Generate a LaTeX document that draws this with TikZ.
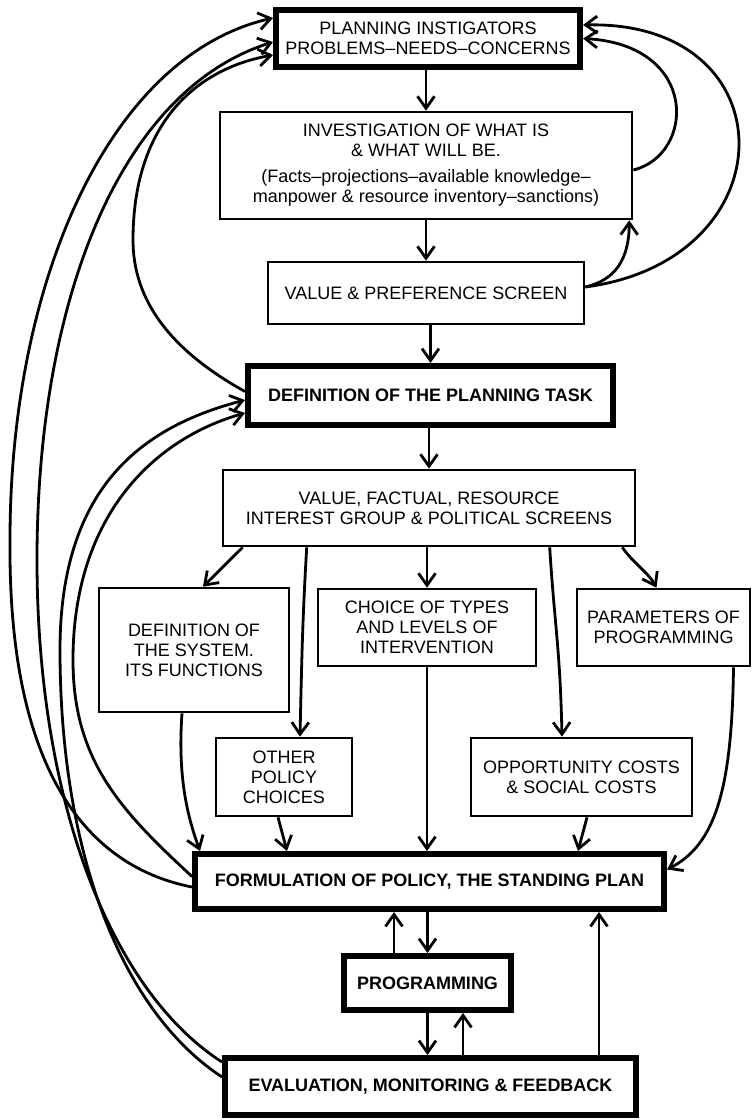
\documentclass[tikz,border=0pt]{standalone}
\usepackage{fontspec}
\setmainfont{Liberation Sans}
\usetikzlibrary{arrows.meta,calc}
\begin{document}
\begin{tikzpicture}[x=1pt,y=-1pt,
  box/.style={draw, line width=2.6pt, align=center, inner sep=0pt,
    font=\fontsize{18}{20}\selectfont},
  heavy/.style={box, line width=6pt},
  bold/.style={font=\fontsize{18}{20}\selectfont\bfseries},
  conn/.style={line width=2.8pt, -{Straight Barb[length=12pt,width=17pt]}}]
\useasboundingbox (0,0) rectangle (752,1120);

% boxes, top to bottom
\node[heavy, minimum width=304, minimum height=57] (plan) at (428,38.5)
  {PLANNING INSTIGATORS\\PROBLEMS–NEEDS–CONCERNS};
\node[box, minimum width=412, minimum height=107] (inv) at (426,165.5)
  {INVESTIGATION OF WHAT IS\\\& WHAT WILL BE.\\[6pt]
   (Facts–projections–available knowledge–\\manpower \& resource inventory–sanctions)};
\node[box, minimum width=316, minimum height=62] (vps) at (426,293)
  {VALUE \& PREFERENCE SCREEN};
\node[heavy, bold, minimum width=365, minimum height=59] (def) at (430.5,395.5)
  {DEFINITION OF THE PLANNING TASK};
\node[box, minimum width=412, minimum height=76] (vfs) at (429,508)
  {VALUE, FACTUAL, RESOURCE\\INTEREST GROUP \& POLITICAL SCREENS};
\node[box, minimum width=190, minimum height=124] (sys) at (194,650)
  {DEFINITION OF\\THE SYSTEM.\\ITS FUNCTIONS};
\node[box, minimum width=218, minimum height=77] (cho) at (427,627.5)
  {CHOICE OF TYPES\\AND LEVELS OF\\INTERVENTION};
\node[box, minimum width=173, minimum height=77] (par) at (663.5,627.5)
  {PARAMETERS OF\\PROGRAMMING};
\node[box, minimum width=136, minimum height=78] (oth) at (284,777)
  {OTHER\\POLICY\\CHOICES};
\node[box, minimum width=221, minimum height=78] (opp) at (581.5,777)
  {OPPORTUNITY COSTS\\\& SOCIAL COSTS};
\node[heavy, bold, minimum width=469, minimum height=55] (form) at (429.5,881.5)
  {FORMULATION OF POLICY, THE STANDING PLAN};
\node[heavy, bold, minimum width=167, minimum height=54] (prog) at (427.5,983)
  {PROGRAMMING};
\node[heavy, bold, minimum width=411, minimum height=57] (eval) at (430.5,1086.5)
  {EVALUATION, MONITORING \& FEEDBACK};

% main downward flow
\draw[conn] (plan.south -| inv.north) -- (inv.north);
\draw[conn] (inv.south -| vps.north) -- (vps.north);
\draw[conn] (vps.south -| def.north) -- (def.north);
\draw[conn] (def.south -| vfs.north) -- (vfs.north);

% screens to the option boxes
\draw[conn] ($(vfs.south west)+(21,0)$) -- ($(sys.north)+(9,0)$);
\draw[conn] ($(vfs.south west)+(85,0)$) .. controls +(-4,70) and +(2,-90) .. ($(oth.north)+(16,0)$);
\draw[conn] (vfs.south -| cho.north) -- (cho.north);
\draw[conn] ($(vfs.south west)+(328,0)$) .. controls +(5,80) and +(-2,-90) .. ($(opp.north)+(-19.5,0)$);
\draw[conn] ($(vfs.south east)+(-14,0)$) .. controls +(10,15) and +(-8,-15) .. ($(par.north)+(-7,0)$);

% option boxes into the standing plan
\draw[conn] ($(sys.south)+(-12,0)$) .. controls (178,770) and (185,810) .. ($(form.north west)+(8,0)$);
\draw[conn] ($(oth.south)+(-6,0)$) -- ($(form.north west)+(95,0)$);
\draw[conn] (cho.south) -- (cho.south |- form.north);
\draw[conn] ($(opp.south)+(5.5,0)$) -- ($(form.north west)+(386,0)$);
\draw[conn] ($(par.south)+(70,0)$) .. controls (732,790) and (715,845) .. ($(form.east)+(0,-12)$);

% plan, programming, evaluation
\coordinate (pu) at ($(prog.north)+(-33.5,0)$);
\coordinate (eu) at ($(eval.north)+(32.5,0)$);
\coordinate (ef) at ($(eval.north)+(168.5,0)$);
\draw[conn] (prog.north |- form.south) -- (prog.north);
\draw[conn] (pu) -- (pu |- form.south);
\draw[conn] (prog.south) -- (prog.south |- eval.north);
\draw[conn] (eu) -- (eu |- prog.south);
\draw[conn] (ef) -- (ef |- form.south);

% feedback loops on the right
\draw[conn] ($(inv.east)+(0,4.5)$) .. controls (695,155) and (700,45) .. (plan.east);
\draw[conn] ($(vps.east)+(0,-6)$) .. controls (790,260) and (790,20) .. ($(plan.east)+(0,-13.5)$);
\draw[conn] ($(vps.east)+(0,-6)$) .. controls (615,280) and (629,260) .. ($(inv.south east)+(-4,0)$);

% feedback loops on the left
\coordinate (w1) at (10,540);
\coordinate (w2) at (37,560);
\coordinate (w3) at (60,650);
\coordinate (w4) at (73,660);
\coordinate (w5) at (133,240);
\draw[conn] ($(form.west)+(0,5.5)$) .. controls (80,865) and (8,760) .. (w1)
  .. controls (10,280) and (110,55) .. ($(plan.west)+(0,-20.5)$);
\draw[conn] ($(eval.west)+(0,-24.5)$) .. controls (110,990) and (37,800) .. (w2)
  .. controls (37,300) and (120,90) .. ($(plan.west)+(0,3.5)$);
\draw[conn] ($(eval.west)+(0,-9.5)$) .. controls (120,1010) and (60,850) .. (w3)
  .. controls (60,480) and (150,425) .. ($(def.west)+(0,4.5)$);
\draw[conn] ($(form.west)+(0,-5)$) .. controls (120,810) and (73,760) .. (w4)
  .. controls (73,520) and (150,440) .. ($(def.west)+(0,17.5)$);
\draw[conn] ($(def.west)+(0,-4)$) .. controls (170,350) and (133,300) .. (w5)
  .. controls (133,130) and (190,70) .. ($(plan.west)+(0,16.5)$);
\end{tikzpicture}
\end{document}
